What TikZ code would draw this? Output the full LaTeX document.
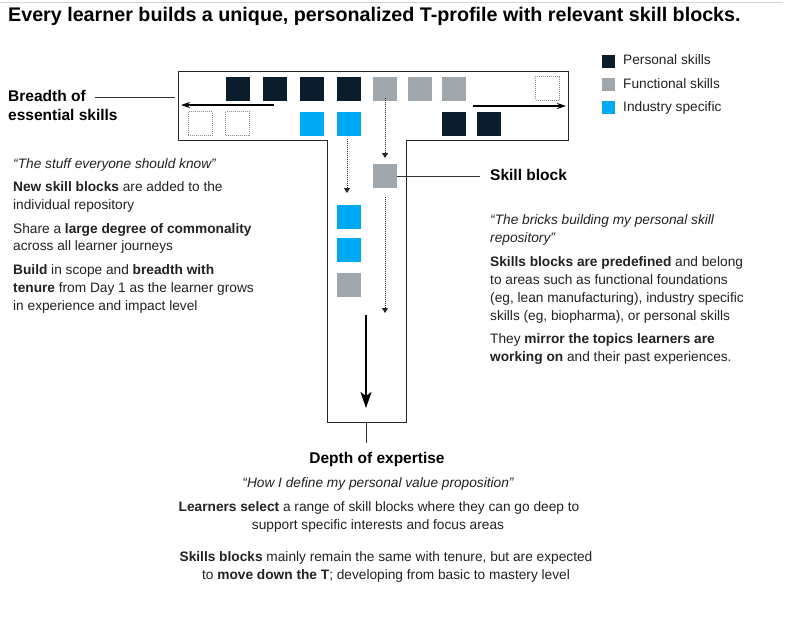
\documentclass[tikz,border=0pt]{standalone}
\usepackage{fontspec}
\setmainfont{Liberation Sans}
\usetikzlibrary{arrows.meta}
\definecolor{dark}{HTML}{0B1D2D}
\definecolor{midgray}{HTML}{A0A7AC}
\definecolor{cyanb}{HTML}{00A9F4}
\definecolor{txt}{HTML}{222222}
\definecolor{rule}{HTML}{D4D4D4}
\begin{document}
\begin{tikzpicture}[x=1pt,y=-1pt,
 blk/.style={minimum size=24pt, inner sep=0pt, outer sep=0pt, draw=none},
 emptyblk/.style={minimum size=24pt, inner sep=0pt, outer sep=0pt, draw=black!45, line width=0.6pt, dash pattern=on 1pt off 1pt},
 lg/.style={minimum size=13pt, inner sep=0pt, draw=none},
 body/.style={anchor=base west, inner sep=0pt, font=\fontsize{13.7}{16}\selectfont, text=txt},
 bodyc/.style={anchor=base, inner sep=0pt, font=\fontsize{13.7}{16}\selectfont, text=txt},
 head/.style={anchor=base west, inner sep=0pt, font=\fontsize{15.5}{18}\selectfont\bfseries, text=black},
 dotarrow/.style={line width=0.9pt, dash pattern=on 1pt off 1pt, -{Triangle[length=5pt,width=6pt]}, black!85},
 bigarrow/.style={line width=1.6pt, -{Stealth[length=16pt,width=11pt,inset=4pt]}},
 sidearrow/.style={line width=1.3pt, -{Stealth[length=9pt,width=6pt]}},
 thinline/.style={line width=0.8pt, black!80},
]
\useasboundingbox (0,0) rectangle (792,622);
\fill[white] (0,0) rectangle (792,622);
\draw[rule, line width=0.6pt] (0,2) -- (783,2);

% title
\node[anchor=base west, inner sep=0pt, font=\fontsize{19.7}{22}\selectfont\bfseries] (title) at (8,21) {Every learner builds a unique, personalized T-profile with relevant skill blocks.};

% legend
\node[lg, fill=dark] (lgp) at (608,61) {};
\node[lg, fill=midgray] (lgf) at (608,84) {};
\node[lg, fill=cyanb] (lgi) at (608,107) {};
\node[body] (lgpt) at (623,64.5) {Personal skills};
\node[body] (lgft) at (623,88) {Functional skills};
\node[body] (lgit) at (623,111) {Industry specific};

% T outline
\draw[line width=0.9pt, black!85] (178,71) -- (568,71) -- (568,140) -- (406,140) -- (406,422) -- (327,422) -- (327,140) -- (178,140) -- cycle;

% row 1
\node[blk, fill=dark] (p1) at (238,88.5) {};
\node[blk, fill=dark] (p2) at (275,88.5) {};
\node[blk, fill=dark] (p3) at (312,88.5) {};
\node[blk, fill=dark] (p4) at (349,88.5) {};
\node[blk, fill=midgray] (f1) at (385,88.5) {};
\node[blk, fill=midgray] (f2) at (420,88.5) {};
\node[blk, fill=midgray] (f3) at (454,88.5) {};
\node[emptyblk] (e1) at (547.5,88) {};
% row 2
\node[emptyblk] (e2) at (200,123.5) {};
\node[emptyblk] (e3) at (237.5,123.5) {};
\node[blk, fill=cyanb] (i1) at (312,123.5) {};
\node[blk, fill=cyanb] (i2) at (349,123.5) {};
\node[blk, fill=dark] (p5) at (454,123.5) {};
\node[blk, fill=dark] (p6) at (489,123.5) {};
% stem
\node[blk, fill=midgray] (sb) at (385,176) {};
\node[blk, fill=cyanb] (i3) at (349,216.5) {};
\node[blk, fill=cyanb] (i4) at (349,249.5) {};
\node[blk, fill=midgray] (f4) at (349,285) {};

% horizontal arrows
\coordinate (la1) at (274,105);
\coordinate (la2) at (181,105);
\coordinate (ra1) at (473,106);
\coordinate (ra2) at (566,106);
\draw[sidearrow] (la1) -- (la2);
\draw[sidearrow] (ra1) -- (ra2);

% dotted arrows
\coordinate (d1s) at (347,139);
\coordinate (d1e) at (347,193);
\coordinate (d2e) at (385,158);
\coordinate (d3s) at (385,197);
\coordinate (d3e) at (385,313);
\draw[dotarrow] (d1s) -- (d1e);
\draw[dotarrow] ([yshift=3pt]f1.south) -- (d2e);
\draw[dotarrow] (d3s) -- (d3e);

% big arrow
\coordinate (ba1) at (366,315);
\coordinate (ba2) at (366,408);
\draw[bigarrow] (ba1) -- (ba2);

% labels
\node[head] (breadth1) at (8,101.5) {Breadth of};
\node[head] (breadth2) at (8,120.5) {essential skills};
\coordinate (bl1) at (95,97);
\coordinate (bl2) at (175,97);
\draw[thinline] (bl1) -- (bl2);

\node[head] (sbl) at (490,180.5) {Skill block};
\coordinate (sbe) at (480,176);
\draw[thinline] (sb.east) -- (sbe);

\coordinate (tk1) at (366,422);
\coordinate (tk2) at (366,443);
\node[anchor=base, inner sep=0pt, font=\fontsize{15.5}{18}\selectfont\bfseries] (depth) at (377,463) {Depth of expertise};
\draw[thinline] (tk1) -- (tk2);

% left text
\node[body] (l1) at (13,168.5) {\itshape “The stuff everyone should know”};
\node[body] (l2) at (13,191.5) {\textbf{New skill blocks} are added to the};
\node[body] (l3) at (13,209.5) {individual repository};
\node[body] (l4) at (13,233) {Share a \textbf{large degree of commonality}};
\node[body] (l5) at (13,250.5) {across all learner journeys};
\node[body] (l6) at (13,274.5) {\textbf{Build} in scope and \textbf{breadth with}};
\node[body] (l7) at (13,292.5) {\textbf{tenure} from Day 1 as the learner grows};
\node[body] (l8) at (13,310) {in experience and impact level};

% right text
\node[body] (r1) at (490,224.5) {\itshape “The bricks building my personal skill};
\node[body] (r2) at (490,242) {\itshape repository”};
\node[body] (r3) at (490,266) {\textbf{Skills blocks are predefined} and belong};
\node[body] (r4) at (490,284) {to areas such as functional foundations};
\node[body] (r5) at (490,302) {(eg, lean manufacturing), industry specific};
\node[body] (r6) at (490,320) {skills (eg, biopharma), or personal skills};
\node[body] (r7) at (490,343.5) {They \textbf{mirror the topics learners are}};
\node[body] (r8) at (490,361.5) {\textbf{working on} and their past experiences.};

% bottom text
\node[bodyc] (b1) at (378,487.5) {\itshape “How I define my personal value proposition”};
\node[bodyc] (b2) at (379,511.5) {\textbf{Learners select} a range of skill blocks where they can go deep to};
\node[bodyc] (b3) at (378,529) {support specific interests and focus areas};
\node[bodyc] (b4) at (386,561.5) {\textbf{Skills blocks} mainly remain the same with tenure, but are expected};
\node[bodyc] (b5) at (386,579.5) {to \textbf{move down the T}; developing from basic to mastery level};
\end{tikzpicture}
\end{document}
